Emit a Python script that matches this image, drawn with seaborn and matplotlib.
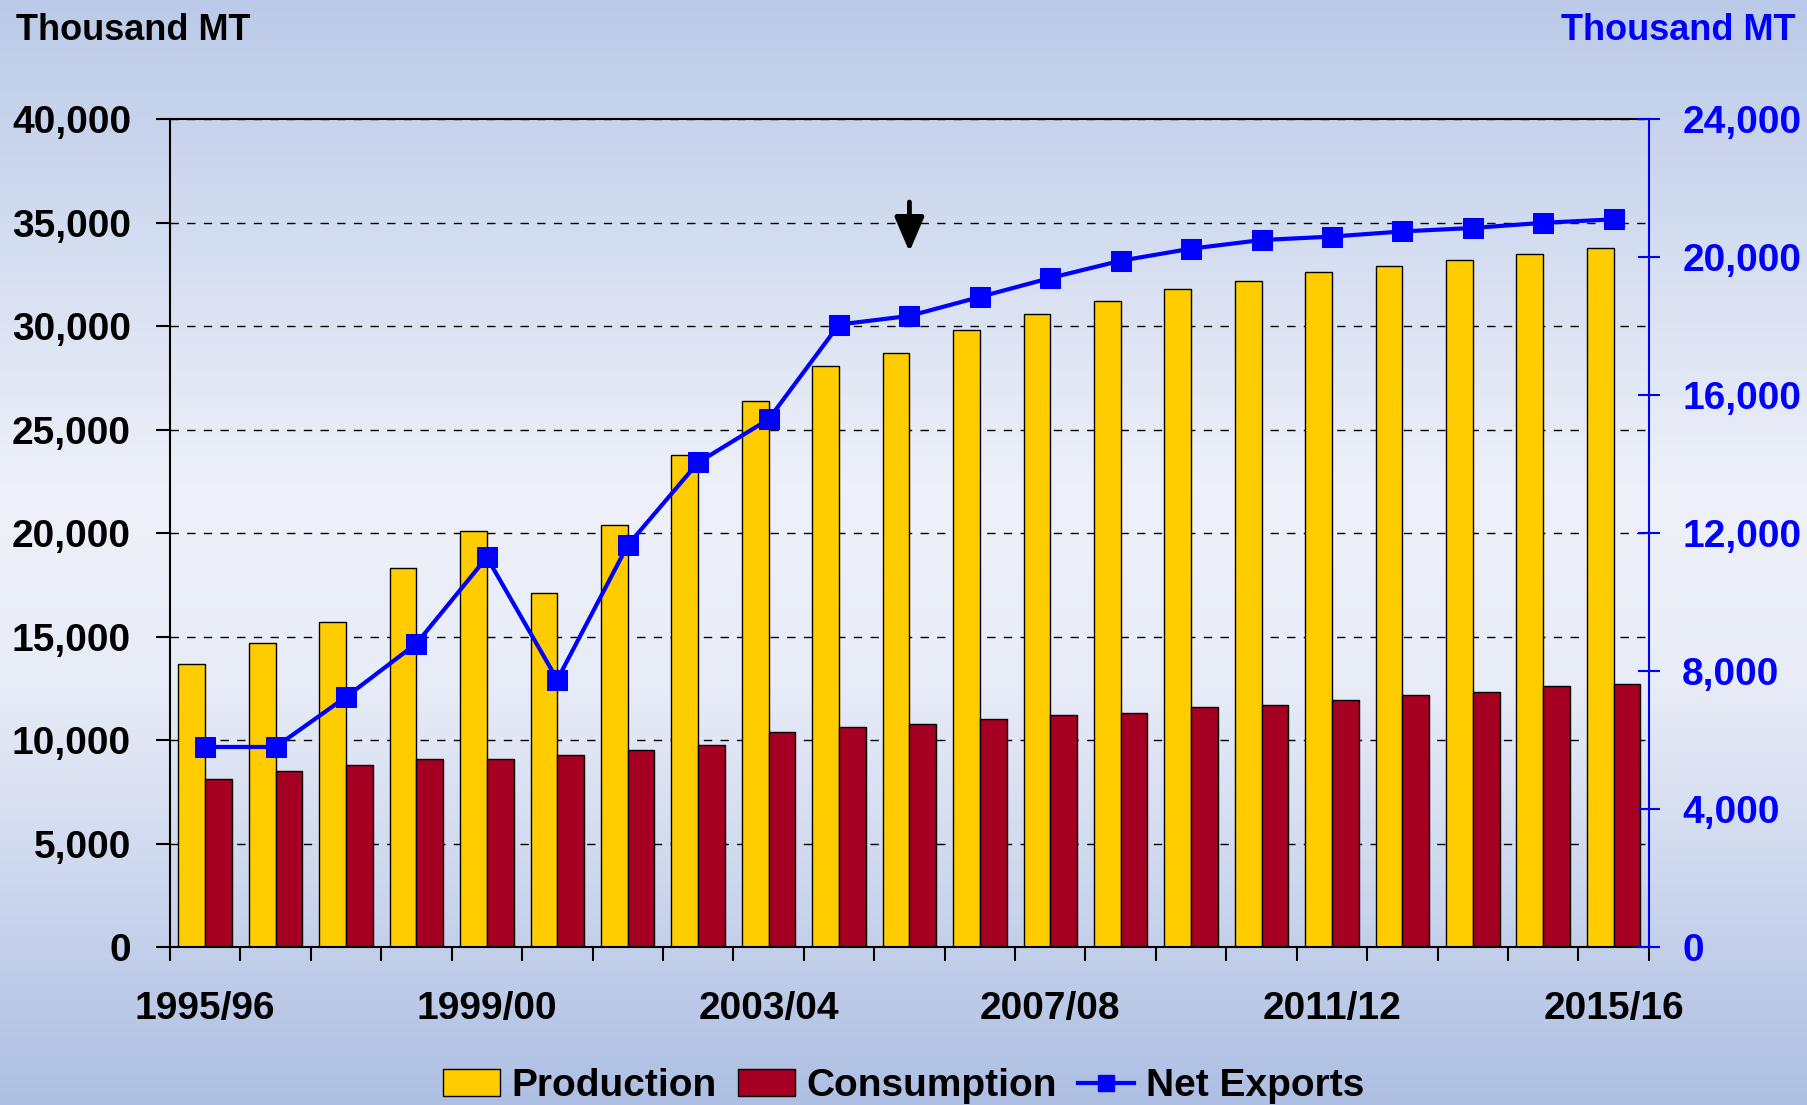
import numpy as np
import pandas as pd
import matplotlib
matplotlib.use('Agg')
import matplotlib.pyplot as plt
import seaborn as sns
from matplotlib.colors import LinearSegmentedColormap
from matplotlib.patches import Patch
from matplotlib.lines import Line2D
from matplotlib.ticker import FuncFormatter

# data (thousand MT)
years = ['1995/96', '1996/97', '1997/98', '1998/99', '1999/00', '2000/01', '2001/02',
         '2002/03', '2003/04', '2004/05', '2005/06', '2006/07', '2007/08', '2008/09',
         '2009/10', '2010/11', '2011/12', '2012/13', '2013/14', '2014/15', '2015/16']
production = [13700, 14700, 15700, 18300, 20100, 17100, 20400, 23800, 26400, 28100, 28700,
              29800, 30600, 31200, 31800, 32200, 32600, 32900, 33200, 33500, 33800]
consumption = [8100, 8500, 8800, 9100, 9100, 9300, 9500, 9750, 10400, 10650, 10800,
               11000, 11200, 11300, 11600, 11700, 11950, 12200, 12300, 12600, 12700]
net_exports = [5800, 5800, 7250, 8800, 11300, 7750, 11650, 14050, 15300, 18050, 18300,
               18850, 19400, 19900, 20250, 20500, 20600, 20750, 20850, 21000, 21100]
label_years = years[::4]

YELLOW = '#FFCC00'
RED = '#A50021'
BLUE = '#0000FF'

plt.rcParams['font.family'] = ['Liberation Sans', 'DejaVu Sans']
plt.rcParams['font.weight'] = 'bold'

fig = plt.figure(figsize=(18.08, 11.05), dpi=100)

# gradient background
bg = fig.add_axes([0, 0, 1, 1], zorder=-10)
cmap = LinearSegmentedColormap.from_list(
    'bg', [(0, '#BBCAE8'), (0.45, '#EEF1F9'), (0.62, '#E8ECF7'), (1, '#AEBFE3')])
bg.imshow(np.linspace(0, 1, 256).reshape(-1, 1), aspect='auto', cmap=cmap,
          extent=[0, 1, 0, 1], origin='upper')
bg.axis('off')

ax = fig.add_axes([0.094, 0.143, 0.818, 0.749])
ax.patch.set_alpha(0)

df = pd.DataFrame({
    'Year': years * 2,
    'Series': ['Production'] * len(years) + ['Consumption'] * len(years),
    'Value': production + consumption,
})
sns.barplot(data=df, x='Year', y='Value', hue='Series', order=years,
            palette=[YELLOW, RED], saturation=1, width=0.76,
            edgecolor='black', linewidth=1, ax=ax, legend=False)

ax2 = ax.twinx()
sns.lineplot(x=np.arange(len(years)), y=net_exports, ax=ax2, color=BLUE, marker='s',
             markersize=15, markeredgecolor=BLUE, linewidth=3)

ax.set_xlim(-0.5, len(years) - 0.5)
ax.set_ylim(0, 40000)
ax2.set_ylim(0, 24000)
ax.set_xlabel('')
ax.set_ylabel('')

ax.set_xticks(range(0, len(years), 4))
ax.set_xticklabels(label_years)
ax.set_xticks(np.arange(-0.5, len(years), 1), minor=True)
ax.tick_params(axis='x', which='major', length=0, pad=32, labelsize=28)
ax.tick_params(axis='x', which='minor', length=10, width=1.5, direction='out')

comma = FuncFormatter(lambda v, p: f'{int(v):,}')
ax.set_yticks(range(0, 40001, 5000))
ax.yaxis.set_major_formatter(comma)
ax.tick_params(axis='y', length=10, width=1.5, pad=18, labelsize=28)

ax2.set_yticks(range(0, 24001, 4000))
ax2.yaxis.set_major_formatter(comma)
ax2.tick_params(axis='y', colors=BLUE, direction='inout', length=16, width=1.5,
                pad=16, labelsize=28)
ax2.set_ylabel('')

ax.grid(axis='y', linestyle=(0, (6, 6)), color='black', linewidth=1)
ax.set_axisbelow(True)

for s in ['left', 'top', 'bottom']:
    ax.spines[s].set_color('black')
    ax.spines[s].set_linewidth(1.5)
ax.spines['right'].set_visible(False)
for s in ['left', 'top', 'bottom']:
    ax2.spines[s].set_visible(False)
ax2.spines['right'].set_color(BLUE)
ax2.spines['right'].set_linewidth(1.5)

# arrow pointing at 2005/06
ax.annotate('', xy=(10, 33600), xytext=(10, 36000),
            arrowprops=dict(arrowstyle='-|>,head_length=0.7,head_width=0.3',
                            color='black', lw=3.5, mutation_scale=30,
                            shrinkA=0, shrinkB=0))

fig.text(0.009, 0.972, 'Thousand MT', fontsize=26, fontweight='bold', va='center')
fig.text(0.993, 0.972, 'Thousand MT', fontsize=26, fontweight='bold', va='center',
         ha='right', color=BLUE)

handles = [Patch(facecolor=YELLOW, edgecolor='black', linewidth=1),
           Patch(facecolor=RED, edgecolor='black', linewidth=1),
           Line2D([0], [0], color=BLUE, marker='s', lw=3, markersize=12)]
fig.legend(handles, ['Production', 'Consumption', 'Net Exports'], loc='center',
           bbox_to_anchor=(0.5, 0.017), ncol=3, frameon=False, fontsize=28,
           handlelength=1.45, handleheight=0.7, columnspacing=0.55, handletextpad=0.3)

fig.savefig('out.png', dpi=100)
